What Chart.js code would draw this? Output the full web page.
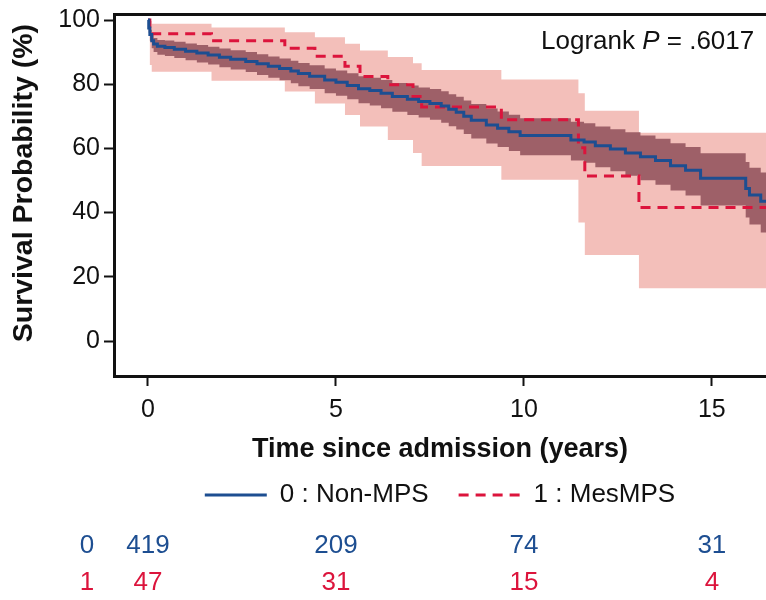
<!DOCTYPE html>
<html>
<head>
<meta charset="utf-8">
<script src="https://cdn.jsdelivr.net/npm/chart.js@4"></script>
<style>
  body { margin: 0; background: #fff; }
  #wrap { width: 766px; height: 600px; position: relative; }
</style>
</head>
<body>
<div id="wrap"><canvas id="myChart"></canvas></div>
<script>
// Non-MPS (group 0) Kaplan-Meier estimate and 95% CI
var nonTimes = [0, 0.02, 0.05, 0.1, 0.15, 0.25, 0.45, 0.7, 1.0, 1.3, 1.6, 1.9, 2.2, 2.6, 2.9, 3.2, 3.5, 3.8, 4.0, 4.3,
    4.7, 5.0, 5.3, 5.6, 5.9, 6.2, 6.5, 6.9, 7.2, 7.5, 7.8, 8.0, 8.2, 8.4, 8.6, 9.0, 9.3, 9.6, 9.9, 11.25,
    11.6, 11.9, 12.3, 12.7, 13.1, 13.5, 13.9, 14.3, 14.7, 15.9, 16.0, 16.3, 16.44];
var nonSurv = [100, 97.5, 95.5, 93.5, 92.5, 91.8, 91.4, 90.9, 90.3, 89.7, 89.1, 88.4, 87.8, 87.1, 86.4, 85.6, 84.9, 84.1, 83.3, 82.5,
    81.3, 80.6, 79.6, 78.6, 78.0, 77.2, 76.2, 75.3, 74.6, 74.0, 73.2, 72.2, 71.3, 70.0, 68.8, 67.3, 66.3, 65.2, 64.0, 62.6,
    62.0, 60.8, 59.8, 58.6, 57.4, 56.2, 54.6, 53.2, 50.7, 47.5, 45.5, 43.5, 43.5];
var nonLower = [100, 96.0, 93.5, 91.2, 90.0, 89.2, 88.8, 88.2, 87.5, 86.8, 86.1, 85.3, 84.6, 83.8, 82.9, 82.0, 81.2, 80.3, 79.4, 78.5,
    77.2, 76.4, 75.3, 74.1, 73.4, 72.5, 71.4, 70.4, 69.6, 68.9, 68.0, 66.9, 65.9, 64.5, 63.1, 61.5, 60.4, 59.2, 57.9, 56.2,
    55.5, 54.1, 52.9, 51.5, 50.1, 48.7, 46.9, 45.3, 42.2, 38.5, 36.3, 33.8, 33.8];
var nonUpper = [100, 98.5, 97.0, 95.3, 94.4, 93.8, 93.6, 93.2, 92.7, 92.2, 91.7, 91.1, 90.6, 90.0, 89.3, 88.6, 88.0, 87.3, 86.6, 85.9,
    84.9, 84.3, 83.4, 82.5, 82.0, 81.3, 80.4, 79.6, 79.0, 78.5, 77.8, 76.9, 76.1, 74.9, 73.8, 72.4, 71.5, 70.5, 69.4, 68.3,
    67.8, 66.8, 66.0, 65.0, 64.0, 63.0, 61.6, 60.4, 58.5, 55.8, 54.0, 52.5, 52.5];

// MesMPS (group 1)
var mesTimes = [0, 0.05, 0.1, 1.69, 3.64, 4.44, 5.24, 5.64, 6.38, 7.05, 7.28, 9.4, 11.45, 11.62, 13.06, 16.44];
var mesSurv = [100, 97.9, 95.7, 93.5, 91.2, 88.7, 85.6, 82.4, 79.8, 76.2, 72.9, 68.9, 60.2, 51.4, 41.6, 41.6];
var mesLower = [100, 86.0, 83.9, 81.1, 77.7, 74.0, 70.4, 66.8, 62.6, 58.6, 54.5, 50.2, 36.9, 26.8, 16.4, 16.4];
var mesUpper = [100, 99.7, 98.8, 97.7, 96.2, 94.6, 92.6, 90.5, 88.5, 86.5, 84.4, 81.5, 77.2, 71.7, 64.9, 64.9];

// number at risk
var riskTimes = [0, 5, 10, 15];
var riskNon = [419, 209, 74, 31];
var riskMes = [47, 31, 15, 4];

var blue = '#1d4e91';
var red = '#dc143c';
var font = "'Liberation Sans', Arial, sans-serif";

function pts(xs, ys) {
    return xs.map(function (x, i) { return { x: x, y: ys[i] }; });
}

var extras = {
    id: 'extras',
    afterDraw: function (chart) {
        var ctx = chart.ctx;
        var x = chart.scales.x;
        ctx.save();
        // logrank text
        ctx.fillStyle = '#111';
        ctx.textBaseline = 'alphabetic';
        ctx.textAlign = 'left';
        var tx = 541, ty = 49;
        ctx.font = '26px ' + font;
        ctx.fillText('Logrank ', tx, ty);
        tx += ctx.measureText('Logrank ').width;
        ctx.font = 'italic 26px ' + font;
        ctx.fillText('P', tx, ty);
        tx += ctx.measureText('P').width;
        ctx.font = '26px ' + font;
        ctx.fillText(' = .6017', tx, ty);

        // risk table
        ctx.textAlign = 'center';
        ctx.textBaseline = 'middle';
        ctx.fillStyle = blue;
        ctx.fillText('0', 87, 546);
        riskTimes.forEach(function (t, i) {
            ctx.fillText(String(riskNon[i]), x.getPixelForValue(t), 546);
        });
        ctx.fillStyle = red;
        ctx.fillText('1', 87, 583);
        riskTimes.forEach(function (t, i) {
            ctx.fillText(String(riskMes[i]), x.getPixelForValue(t), 583);
        });
        ctx.restore();
    }
};

var ctx = document.getElementById('myChart').getContext('2d');
var myChart = new Chart(ctx, {
    type: 'line',
    data: {
        datasets: [{
            label: '0 : Non-MPS',
            data: pts(nonTimes, nonSurv),
            borderColor: blue,
            backgroundColor: blue,
            borderWidth: 3,
            stepped: 'before',
            pointRadius: 0,
            fill: false
        }, {
            label: '1 : MesMPS',
            data: pts(mesTimes, mesSurv),
            borderColor: red,
            backgroundColor: red,
            borderWidth: 3,
            borderDash: [10, 7],
            stepped: 'before',
            pointRadius: 0,
            fill: false
        }, {
            label: 'band0 hi',
            data: pts(nonTimes, nonUpper),
            borderWidth: 0,
            stepped: 'before',
            pointRadius: 0,
            backgroundColor: '#9e6068',
            fill: '+1'
        }, {
            label: 'band0 lo',
            data: pts(nonTimes, nonLower),
            borderWidth: 0,
            stepped: 'before',
            pointRadius: 0,
            fill: false
        }, {
            label: 'band1 hi',
            data: pts(mesTimes, mesUpper),
            borderWidth: 0,
            stepped: 'before',
            pointRadius: 0,
            backgroundColor: '#f3bfba',
            fill: '+1'
        }, {
            label: 'band1 lo',
            data: pts(mesTimes, mesLower),
            borderWidth: 0,
            stepped: 'before',
            pointRadius: 0,
            fill: false
        }]
    },
    options: {
        responsive: true,
        maintainAspectRatio: false,
        animation: false,
        layout: { padding: { top: 14, left: 0, right: 0, bottom: 82 } },
        plugins: {
            tooltip: { enabled: false },
            legend: {
                position: 'bottom',
                fullSize: false,
                labels: {
                    usePointStyle: true,
                    pointStyle: 'line',
                    pointStyleWidth: 62,
                    padding: 30,
                    color: '#111',
                    font: { family: font, size: 26 },
                    filter: function (item) { return item.datasetIndex < 2; },
                    generateLabels: function (chart) {
                        var items = Chart.defaults.plugins.legend.labels.generateLabels(chart);
                        items.forEach(function (item) {
                            var ds = chart.data.datasets[item.datasetIndex];
                            item.lineDash = ds.borderDash || [];
                            item.lineWidth = 3;
                            item.strokeStyle = ds.borderColor;
                            item.fillStyle = ds.borderColor;
                        });
                        return items;
                    }
                }
            }
        },
        scales: {
            x: {
                type: 'linear',
                min: -0.904,
                max: 16.44,
                afterFit: function (s) { s.height = 76; },
                ticks: {
                    stepSize: 5,
                    includeBounds: false,
                    padding: 9,
                    color: '#111',
                    font: { family: font, size: 25 }
                },
                grid: { drawOnChartArea: false, drawTicks: true, tickLength: 10, tickWidth: 2, tickColor: '#111' },
                border: { color: '#111', width: 3 },
                title: {
                    display: true,
                    text: 'Time since admission (years)',
                    color: '#111',
                    font: { family: font, size: 27, weight: 'bold' },
                    padding: { top: 0, bottom: -14 }
                }
            },
            x2: {
                type: 'linear',
                position: 'top',
                min: -0.904,
                max: 16.44,
                afterFit: function (s) { s.height = 0; },
                ticks: { display: false },
                grid: { display: false, drawTicks: false },
                border: { display: true, color: '#111', width: 3 }
            },
            y: {
                min: -10.9,
                max: 101.87,
                afterFit: function (s) { s.width = 114; s.paddingTop = 0; s.paddingBottom = 0; },
                ticks: {
                    stepSize: 20,
                    includeBounds: false,
                    padding: 4,
                    color: '#111',
                    font: { family: font, size: 25 }
                },
                grid: { drawOnChartArea: false, drawTicks: true, tickLength: 10, tickWidth: 2, tickColor: '#111' },
                border: { color: '#111', width: 3 },
                title: {
                    display: true,
                    text: '   Survival Probability (%)',
                    color: '#111',
                    font: { family: font, size: 28.5, weight: 'bold' },
                    padding: { top: 7, bottom: 0 }
                }
            }
        }
    },
    plugins: [extras]
});
</script>
</body>
</html>
